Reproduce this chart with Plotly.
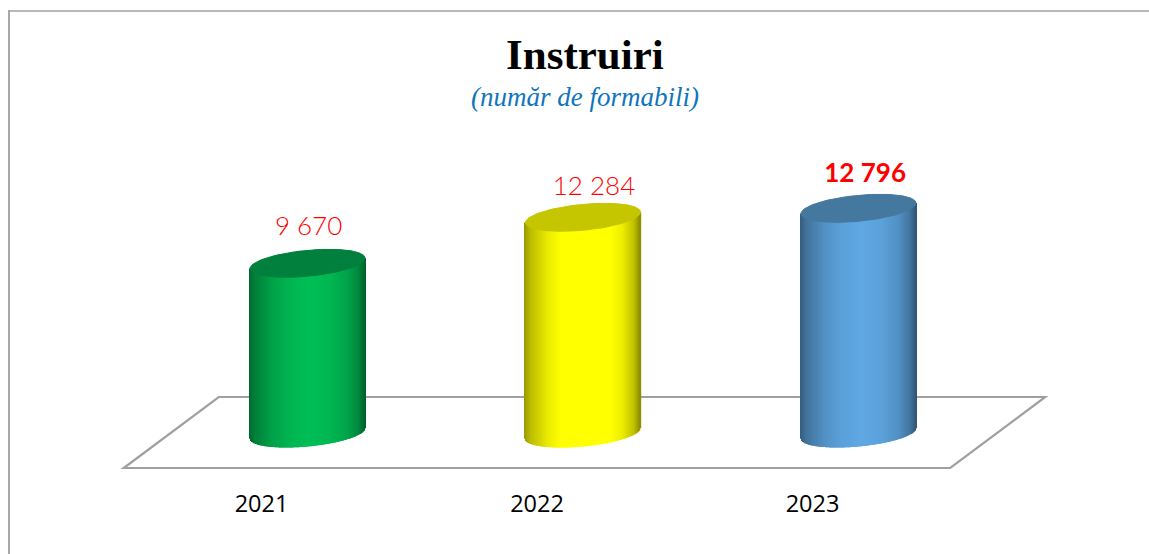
import numpy as np
import plotly.graph_objects as go

# ---- data ----
categories = ["2021", "2022", "2023"]
values = [9670, 12284, 12796]
value_labels = ["9 670", "12 284", "12 796"]
label_bold = [False, False, True]
label_shift_cat = [0.004, 0.04, 0.024]     # horizontal nudge of each label
label_lift = [2000, 1650, 1835]            # label height above the cylinder top
body_colors = [(0, 190, 85), (255, 255, 0), (95, 168, 228)]
body_gain = [1.0, 1.08, 1.0]
cap_colors = ["#00803C", "#C6C600", "#44789F"]

# ---- scale: pixels per category / per value unit ----
W, H = 1149, 554
PLOT_BOTTOM = 487
PX_CAT = 275.5
PX_VAL = 0.0176
X0_PX = 261.5
Y0_PX = 433.5

RX = 57.5 / PX_CAT          # cylinder half width, categories
DEPTH = 13 / PX_VAL         # ellipse half height, value units
SHEAR = 5.25 / PX_VAL       # tilt of the ellipse, value units
OFFSET = 46 / PX_CAT        # cylinder centre relative to tick label

SHADE_U = [-1.0, -0.9, -0.6, -0.3, 0.05, 0.4, 0.7, 0.9, 1.0]
SHADE_F = [0.56, 0.68, 0.85, 0.95, 1.0, 0.96, 0.86, 0.7, 0.52]

fig = go.Figure()

for i, cat in enumerate(categories):
    cx = i + OFFSET
    u = np.linspace(-1, 1, 116)
    shade = np.minimum(1.0, np.interp(u, SHADE_U, SHADE_F) * body_gain[i])
    r, g, b = body_colors[i]
    colors = [f"rgb({r*f:.0f},{g*f:.0f},{b*f:.0f})" for f in shade]
    lower = SHEAR * u - DEPTH * np.sqrt(1 - u**2)
    top = values[i] + SHEAR * u
    fig.add_trace(go.Bar(
        x=cx + u * RX, base=lower, y=top - lower,
        width=1.4 / PX_CAT, marker=dict(color=colors, line=dict(width=0)),
        showlegend=False, hoverinfo="skip",
    ))
    t = np.linspace(0, 2 * np.pi, 160)
    fig.add_trace(go.Scatter(
        x=cx + RX * np.cos(t),
        y=values[i] + SHEAR * np.cos(t) + DEPTH * np.sin(t),
        mode="lines", fill="toself", fillcolor=cap_colors[i],
        line=dict(color=cap_colors[i], width=1),
        showlegend=False, hoverinfo="skip",
    ))
    fig.add_trace(go.Scatter(
        x=[cx + label_shift_cat[i]], y=[values[i] + label_lift[i]],
        mode="text", text=[f"<b>{value_labels[i]}</b>" if label_bold[i] else value_labels[i]],
        textposition="middle center",
        textfont=dict(family="Lato", size=26, color="#FF0000",
                      weight=700 if label_bold[i] else 300),
        showlegend=False, hoverinfo="skip",
    ))

# floor of the 3D chart, spanning the three category slots
FRONT = -34.5 / PX_VAL
BACK = 36.5 / PX_VAL
SKEW = 95 / PX_CAT
floor = (f"M -0.5 {FRONT} L 2.5 {FRONT} L {2.5 + SKEW} {BACK} "
         f"L {-0.5 + SKEW} {BACK} Z")

def py(p):
    return (PLOT_BOTTOM - p) / PLOT_BOTTOM

shapes = [
    dict(type="path", path=floor, xref="x", yref="y", layer="below",
         line=dict(color="#A0A0A0", width=2.2), fillcolor="white"),
    dict(type="line", xref="paper", yref="paper", x0=9 / W, x1=1, y0=py(11), y1=py(11),
         line=dict(color="#A0A0A0", width=1.5)),
    dict(type="line", xref="paper", yref="paper", x0=9 / W, x1=9 / W, y0=py(10), y1=py(554),
         line=dict(color="#A8A8A8", width=2)),
]

annotations = [
    dict(text="<b>Instruiri</b>", xref="paper", yref="paper", x=585 / W, y=py(55),
         showarrow=False, xanchor="center", yanchor="middle",
         font=dict(family="Liberation Serif", size=43, color="#000000")),
    dict(text="<i>(număr de formabili)</i>", xref="paper", yref="paper", x=585 / W, y=py(97),
         showarrow=False, xanchor="center", yanchor="middle",
         font=dict(family="Liberation Serif", size=27, color="#0F75BD")),
]

fig.update_layout(
    width=W, height=H, margin=dict(l=0, r=0, t=0, b=H - PLOT_BOTTOM, autoexpand=False),
    paper_bgcolor="white", plot_bgcolor="white", barmode="overlay",
    showlegend=False, shapes=shapes, annotations=annotations,
    xaxis=dict(range=[(0 - X0_PX) / PX_CAT, (W - X0_PX) / PX_CAT], tickmode="array",
               tickvals=[0, 1, 2], ticktext=categories, showgrid=False, zeroline=False,
               showline=False, ticks="", fixedrange=True,
               tickfont=dict(family="Open Sans", size=23.5, color="#000000")),
    yaxis=dict(range=[(Y0_PX - PLOT_BOTTOM) / PX_VAL, Y0_PX / PX_VAL], visible=False,
               fixedrange=True),
)

fig.write_html("out.html", config={"displayModeBar": False},
               post_script="document.body.style.margin='0';document.body.style.overflow='hidden';")
